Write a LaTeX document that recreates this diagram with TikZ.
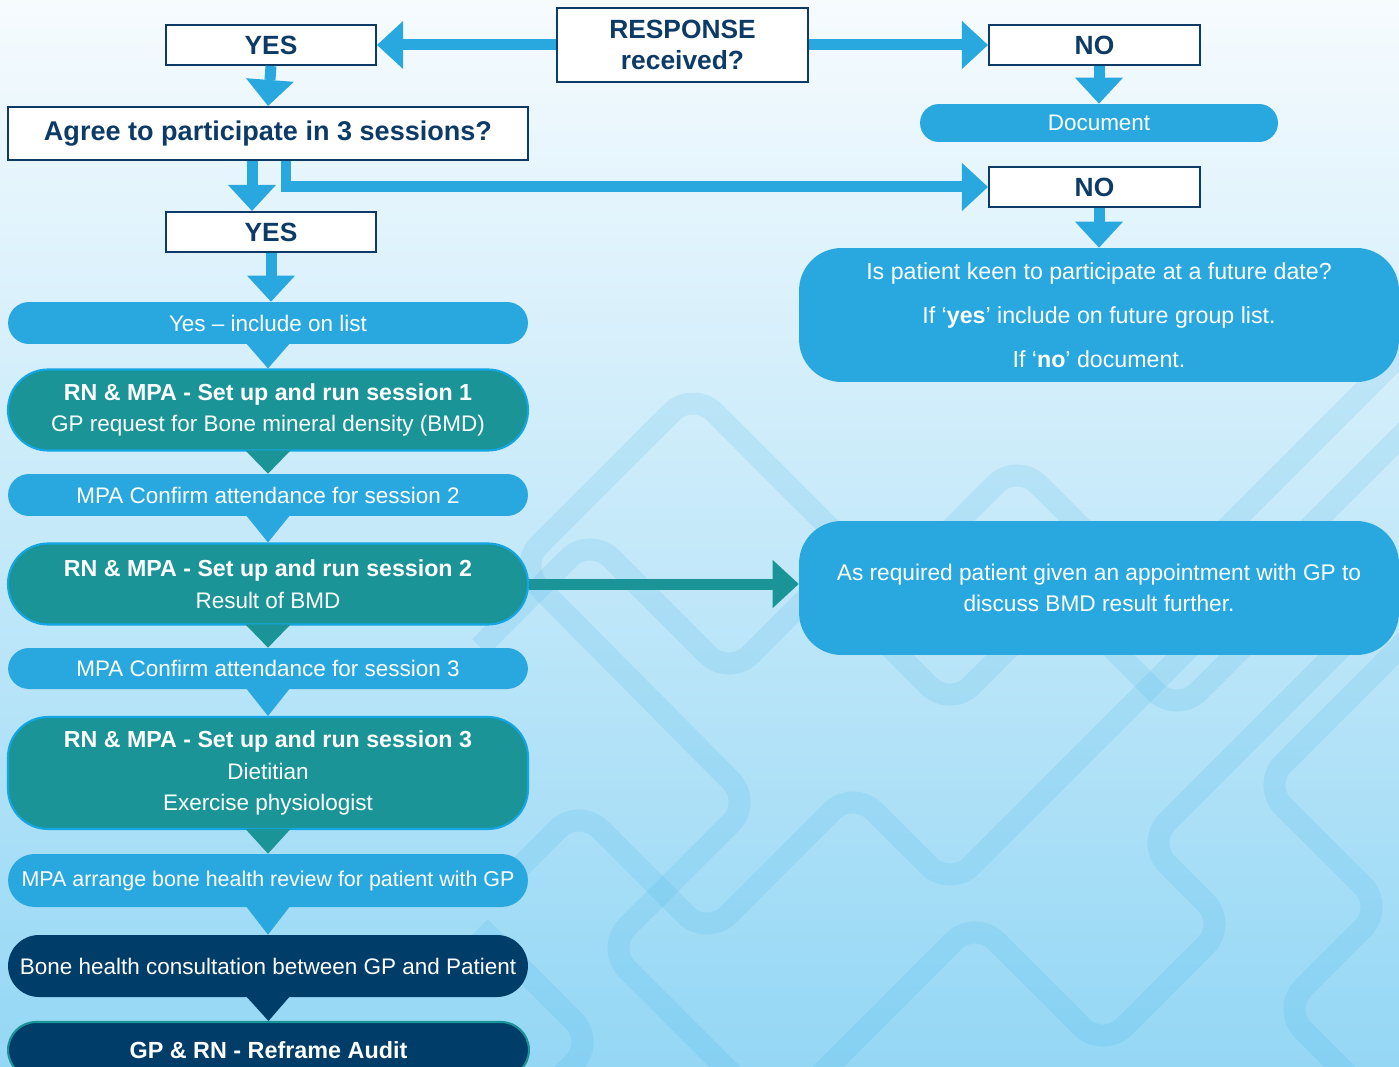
\documentclass[tikz,border=0pt]{standalone}
\usepackage{fontspec}
\setmainfont{Liberation Sans}
\usetikzlibrary{arrows.meta}

\definecolor{navyline}{RGB}{13,59,102}
\definecolor{skyfill}{RGB}{41,168,224}
\definecolor{skyedge}{RGB}{20,165,228}
\definecolor{tealfill}{RGB}{27,148,152}
\definecolor{navyfill}{RGB}{0,61,105}
\definecolor{bgtop}{RGB}{246,251,254}
\definecolor{bgmid}{RGB}{206,237,250}
\definecolor{bgbot}{RGB}{148,215,245}

\tikzset{
  whitebox/.style={draw=navyline, line width=1.2pt, fill=white, text=navyline,
    font=\fontsize{15}{18}\selectfont\bfseries, inner sep=0pt, align=center},
  pill/.style={fill=skyfill, text=white, font=\fontsize{12.8}{18}\selectfont,
    minimum width=10.4cm, minimum height=0.84cm, rounded corners=0.42cm,
    inner sep=0pt, align=center},
  sessionbox/.style={fill=tealfill, draw=skyedge, line width=1.2pt, text=white,
    font=\fontsize{12.8}{18}\selectfont, minimum width=10.4cm,
    rounded corners=0.8cm, inner sep=0pt, align=center},
  navybox/.style={fill=navyfill, text=white, font=\fontsize{12.8}{18}\selectfont,
    minimum width=10.4cm, inner sep=0pt, align=center},
  infobox/.style={fill=skyfill, text=white, minimum width=12cm,
    minimum height=2.68cm, rounded corners=0.85cm, inner sep=0pt, align=center},
  blockarrow/.style={draw=#1, line width=2.2mm, line join=miter,
    -{Triangle[length=5.2mm,width=9.6mm,line width=0pt]}},
  blockarrow/.default=skyfill,
  band/.style={draw=skyfill, line width=12.5pt, opacity=0.13, rounded corners=0.6cm}
}

\begin{document}
\begin{tikzpicture}[x=0.02cm, y=-0.02cm]
\useasboundingbox (0,0) rectangle (1399,1067);
\clip (0,0) rectangle (1399,1067);
\shade[top color=bgtop, middle color=bgmid, bottom color=bgbot] (0,0) rectangle (1399,1067);

% background pattern
\begin{scope}[band]
\draw (732,1074) -- (606,948) -- (752,802) -- (518,566) -- (693,391) -- (905,603);
\draw (480,647) -- (590,537) -- (729,676) -- (810,595);
\draw (505,882) -- (579,808) -- (707,936) -- (853,790) -- (950,887) -- (1480,357);
\draw (760,1135) -- (975,920) -- (1103,1048) -- (1227,924) -- (1146,843) -- (1560,429);
\draw (1650,397) -- (1262,785) -- (1384,907) -- (1282,1009) -- (1352,1079);
\draw (480,927) -- (595,1042) -- (560,1077);
\draw (900,580) -- (1017,463) -- (1140,586);
\draw (1040,576) -- (1177,713) -- (1320,570);
\draw (860,617) -- (950,707) -- (1060,597);
\draw (1180,575) -- (1440,315);
\end{scope}

% top row
\node[whitebox, minimum width=5.02cm, minimum height=1.48cm] (resp) at (682.5,45) {RESPONSE\\received?};
\node[whitebox, minimum width=4.2cm, minimum height=0.8cm] (yes1) at (271,45) {YES};
\node[whitebox, minimum width=4.22cm, minimum height=0.8cm] (no1) at (1094.5,45) {NO};
\node[whitebox, minimum width=10.4cm, minimum height=1.06cm,
  font=\fontsize{15.4}{18}\selectfont\bfseries] (agree) at (268,133.5) {Agree to participate in 3 sessions?};
\node[pill, minimum width=7.16cm, minimum height=0.76cm, rounded corners=0.38cm] (doc) at (1099,123) {Document};
\node[whitebox, minimum width=4.22cm, minimum height=0.8cm] (no2) at (1094.5,187) {NO};
\node[whitebox, minimum width=4.2cm, minimum height=0.8cm] (yes2) at (271,232) {YES};
\node[infobox, font=\fontsize{13.2}{25}\selectfont] (keen) at (1099,315)
  {Is patient keen to participate at a future date?\\If ‘\textbf{yes}’ include on future group list.\\If ‘\textbf{no}’ document.};

% left column
\node[pill] (list) at (268,323) {Yes – include on list};
\node[sessionbox, minimum height=1.62cm] (s1) at (268,410)
  {{\fontsize{13.2}{18}\selectfont\bfseries RN \& MPA - Set up and run session 1}\\GP request for Bone mineral density (BMD)};
\node[pill] (conf2) at (268,495) {MPA Confirm attendance for session 2};
\node[sessionbox, minimum height=1.62cm] (s2) at (268,584)
  {{\fontsize{13.2}{18}\selectfont\bfseries RN \& MPA - Set up and run session 2}\\Result of BMD};
\node[pill, minimum height=0.82cm] (conf3) at (268,668.5) {MPA Confirm attendance for session 3};
\node[sessionbox, minimum height=2.24cm] (s3) at (268,773)
  {{\fontsize{13.2}{18}\selectfont\bfseries RN \& MPA - Set up and run session 3}\\Dietitian\\Exercise physiologist};
\node[pill, minimum height=1.06cm, rounded corners=0.53cm, font=\fontsize{12.2}{18}\selectfont] (arr) at (268,880.5)
  {MPA arrange bone health review for patient with GP};
\node[navybox, minimum height=1.24cm, rounded corners=0.62cm] (bone) at (268,966)
  {Bone health consultation between GP and Patient};
\node[navybox, draw=tealfill, line width=1.2pt, minimum width=10.42cm, minimum height=1.12cm,
  rounded corners=0.56cm, font=\fontsize{13.3}{18}\selectfont\bfseries] (audit) at (268.5,1050) {GP \& RN - Reframe Audit};

\node[infobox, font=\fontsize{12.9}{18}\selectfont] (req) at (1099,588)
  {As required patient given an appointment with GP to\\discuss BMD result further.};

% arrows
\draw[blockarrow] (resp.west) -- (yes1.east);
\draw[blockarrow] (resp.east) -- (no1.west);
\draw[blockarrow] (yes1.south) -- (agree.north);
\draw[blockarrow] (no1.south -| doc.north) -- (doc.north);
\draw[blockarrow] ([xshift=-0.32cm]agree.south) -- ([xshift=-0.32cm]agree.south |- yes2.north);
\draw[blockarrow] ([xshift=0.36cm]agree.south) |- (no2.west);
\draw[blockarrow] (no2.south -| keen.north) -- (keen.north);
\draw[blockarrow] (yes2.south) -- (yes2.south |- list.north);
\draw[blockarrow=tealfill] (s2.east) -- (s2.east -| req.west);

% pointers
\fill[skyfill] ([xshift=-0.45cm,yshift=1pt]list.south) -- ([xshift=0.45cm,yshift=1pt]list.south) -- (s1.north) -- cycle;
\fill[tealfill] ([xshift=-0.45cm,yshift=0.6pt]s1.south) -- ([xshift=0.45cm,yshift=0.6pt]s1.south) -- (conf2.north) -- cycle;
\fill[skyfill] ([xshift=-0.45cm,yshift=1pt]conf2.south) -- ([xshift=0.45cm,yshift=1pt]conf2.south) -- (s2.north) -- cycle;
\fill[tealfill] ([xshift=-0.45cm,yshift=0.6pt]s2.south) -- ([xshift=0.45cm,yshift=0.6pt]s2.south) -- (conf3.north) -- cycle;
\fill[skyfill] ([xshift=-0.45cm,yshift=1pt]conf3.south) -- ([xshift=0.45cm,yshift=1pt]conf3.south) -- (s3.north) -- cycle;
\fill[tealfill] ([xshift=-0.45cm,yshift=0.6pt]s3.south) -- ([xshift=0.45cm,yshift=0.6pt]s3.south) -- (arr.north) -- cycle;
\fill[skyfill] ([xshift=-0.45cm,yshift=1pt]arr.south) -- ([xshift=0.45cm,yshift=1pt]arr.south) -- (bone.north) -- cycle;
\fill[navyfill] ([xshift=-0.45cm,yshift=1pt]bone.south) -- ([xshift=0.45cm,yshift=1pt]bone.south) -- (audit.north) -- cycle;

\end{tikzpicture}
\end{document}
